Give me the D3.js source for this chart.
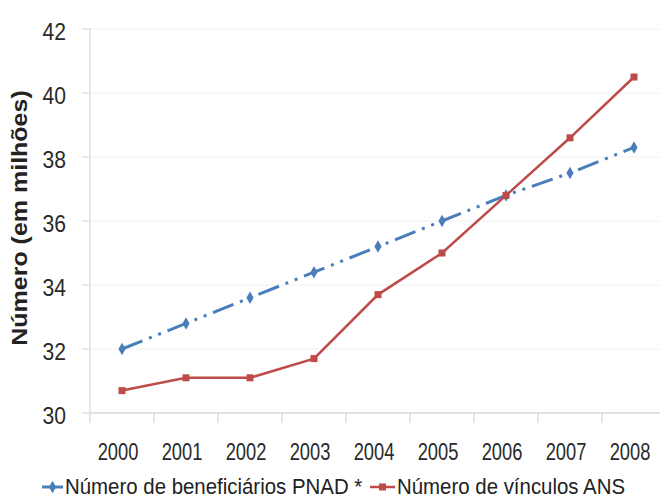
<!DOCTYPE html>
<html>
<head>
<meta charset="utf-8">
<script src="https://cdn.jsdelivr.net/npm/d3@7/dist/d3.min.js"></script>
<style>
  html, body { margin: 0; padding: 0; background: #ffffff; }
  svg { display: block; }
  text { font-family: "Liberation Sans", Arial, sans-serif; fill: #222; }
</style>
</head>
<body>
<svg id="chart" width="660" height="503"></svg>
<script>
const years = ["2000","2001","2002","2003","2004","2005","2006","2007","2008"];
const pnadValues = [32.0, 32.8, 33.6, 34.4, 35.2, 36.0, 36.8, 37.5, 38.3];
const ansValues  = [30.7, 31.1, 31.1, 31.7, 33.7, 35.0, 36.8, 38.6, 40.5];
const yTicks = [30, 32, 34, 36, 38, 40, 42];
const seriesNames = ["Número de beneficiários PNAD *", "Número de vínculos ANS"];
const yTitle = "Número (em milhões)";

const svg = d3.select("#chart");
const blue = "#4a7ebb", red = "#be4b48";

const x = d3.scaleBand().domain(years).range([90, 666]).paddingInner(0).paddingOuter(0);
const y = d3.scaleLinear().domain([30, 42]).range([413, 29]);

// gridlines
svg.append("g").selectAll("line").data(yTicks.filter(t => t > 30)).join("line")
  .attr("x1", 90).attr("x2", 666)
  .attr("y1", d => y(d)).attr("y2", d => y(d))
  .attr("stroke", "#f0f0f0").attr("stroke-width", 1);

// y axis line + ticks
svg.append("line").attr("x1", 90).attr("x2", 90).attr("y1", y(42)).attr("y2", y(30))
  .attr("stroke", "#d9d9d9").attr("stroke-width", 1.2);
svg.append("g").selectAll("line").data(yTicks).join("line")
  .attr("x1", 82).attr("x2", 90)
  .attr("y1", d => y(d)).attr("y2", d => y(d))
  .attr("stroke", "#d9d9d9").attr("stroke-width", 1.2);
svg.append("g").selectAll("text").data(yTicks).join("text")
  .attr("transform", d => `translate(66,${y(d) + 11}) scale(0.92,1)`)
  .attr("text-anchor", "end")
  .style("font-size", "23px").style("fill", "#2a2a2a")
  .text(d => d);

// x axis line + ticks (between categories)
svg.append("line").attr("x1", 90).attr("x2", 666).attr("y1", y(30)).attr("y2", y(30))
  .attr("stroke", "#d9d9d9").attr("stroke-width", 1.5);
const bounds = years.map(d => x(d)).concat([x(years[years.length-1]) + x.bandwidth()]);
svg.append("g").selectAll("line").data(bounds).join("line")
  .attr("x1", d => d).attr("x2", d => d)
  .attr("y1", y(30)).attr("y2", y(30) + 10)
  .attr("stroke", "#d9d9d9").attr("stroke-width", 1.2);
svg.append("g").selectAll("text").data(years).join("text")
  .attr("transform", d => `translate(${x(d) + x.bandwidth()/2 - 4},460) scale(0.78,1)`)
  .attr("text-anchor", "middle")
  .style("font-size", "23.5px").style("fill", "#2a2a2a")
  .text(d => d);

// y title
svg.append("text")
  .attr("transform", "translate(27,218) rotate(-90) scale(1,0.88)")
  .attr("text-anchor", "middle")
  .style("font-size", "25px").style("font-weight", "bold").style("fill", "#222")
  .text(yTitle);

const cx = d => x(d) + x.bandwidth()/2;
const line = d3.line().x((d, i) => cx(years[i])).y(d => y(d));

// PNAD series (dash-dot-dot)
svg.append("path").datum(pnadValues)
  .attr("d", line).attr("fill", "none")
  .attr("stroke", blue).attr("stroke-width", 3)
  .attr("stroke-dasharray", "22,7,3,7,3,7");
const diamond = d3.symbol().type(d3.symbolDiamond).size(45);
svg.append("g").selectAll("path").data(pnadValues).join("path")
  .attr("transform", (d, i) => `translate(${cx(years[i])},${y(d)})`)
  .attr("d", diamond).attr("fill", blue);

// ANS series
svg.append("path").datum(ansValues)
  .attr("d", line).attr("fill", "none")
  .attr("stroke", red).attr("stroke-width", 2.5);
svg.append("g").selectAll("rect").data(ansValues).join("rect")
  .attr("x", (d, i) => cx(years[i]) - 3.5).attr("y", d => y(d) - 3.5)
  .attr("width", 7).attr("height", 7).attr("fill", red);

// legend
const lg = svg.append("g");
lg.append("line").attr("x1", 42).attr("x2", 63).attr("y1", 487).attr("y2", 487)
  .attr("stroke", blue).attr("stroke-width", 3);
lg.append("path").attr("transform", "translate(52.5,487)").attr("d", diamond).attr("fill", blue);
lg.append("text").attr("transform", "translate(65,494) scale(0.95,1.05)").style("font-size", "21.5px").style("fill", "#222")
  .text(seriesNames[0]);
lg.append("line").attr("x1", 370).attr("x2", 395).attr("y1", 487).attr("y2", 487)
  .attr("stroke", red).attr("stroke-width", 2.5);
lg.append("rect").attr("x", 379).attr("y", 483.5).attr("width", 7).attr("height", 7).attr("fill", red);
lg.append("text").attr("transform", "translate(397,494) scale(0.95,1.05)").style("font-size", "21.5px").style("fill", "#222")
  .text(seriesNames[1]);
</script>
</body>
</html>
